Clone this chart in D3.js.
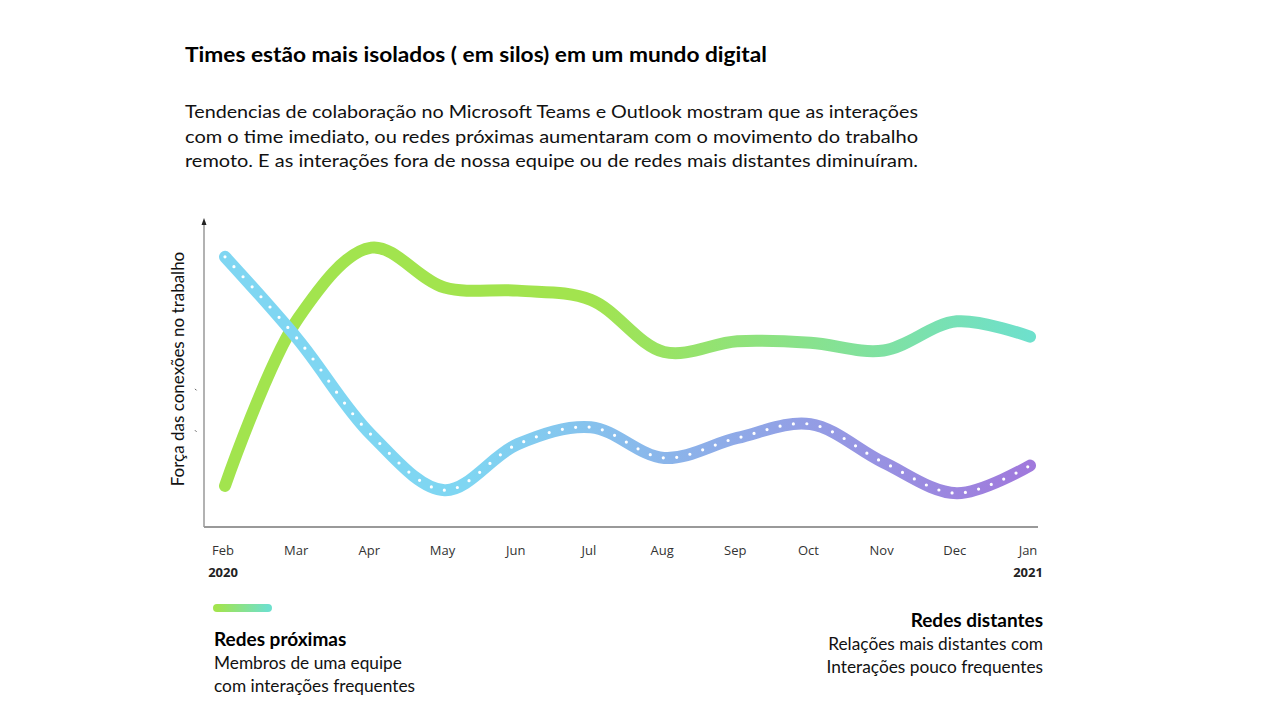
<!DOCTYPE html>
<html><head><meta charset="utf-8">
<script src="https://cdn.jsdelivr.net/npm/d3@7"></script>
<style>body{margin:0;background:#fff}svg{display:block}</style>
</head><body>
<svg id="c" width="1280" height="720"></svg>
<script>
const months = ["Feb","Mar","Apr","May","Jun","Jul","Aug","Sep","Oct","Nov","Dec","Jan"];
const years = ["2020","","","","","","","","","","","2021"];
const proximas = [13.4, 68, 91, 78, 77, 74, 57, 60.5, 60, 57.5, 67, 62];
const distantes = [88, 61, 30, 12, 27, 32.5, 22.5, 29, 33.5, 21, 11, 20];

const svg = d3.select("#c");
const font = "Lato, 'Open Sans', sans-serif";
const x = d3.scalePoint().domain(months).range([225, 1030]);
const y = d3.scaleLinear().domain([0, 100]).range([527, 220]);

const defs = svg.append("defs");
function grad(id, c1, c2, stops){
  const g = defs.append("linearGradient").attr("id", id).attr("gradientUnits","userSpaceOnUse")
    .attr("x1",225).attr("x2",1030).attr("y1",0).attr("y2",0);
  g.append("stop").attr("offset", stops[0]).attr("stop-color", c1);
  g.append("stop").attr("offset", stops[1]).attr("stop-color", c2);
}
grad("gG", "#a2e44e", "#6ee0cc", ["45%","100%"]);
grad("gB", "#7fd6f2", "#a079dc", ["30%","100%"]);
const lg = defs.append("linearGradient").attr("id","gL");
lg.append("stop").attr("offset","0%").attr("stop-color","#a2e44e");
lg.append("stop").attr("offset","100%").attr("stop-color","#6ee0cc");

// axes
svg.append("line").attr("x1",204).attr("x2",1038).attr("y1",527).attr("y2",527)
  .attr("stroke","#999").attr("stroke-width",2);
svg.append("line").attr("x1",204).attr("x2",204).attr("y1",527).attr("y2",224)
  .attr("stroke","#999").attr("stroke-width",1.5);
svg.append("path").attr("d","M204,218 L201.5,225 L206.5,225 Z").attr("fill","#222");
[45, 31.5].forEach(v => svg.append("line").attr("x1",195).attr("x2",196.5)
  .attr("y1",y(v)).attr("y2",y(v)+1.5).attr("stroke","#555").attr("stroke-width",1));

const line = d3.line().x((d,i)=>x(months[i])).y(d=>y(d)).curve(d3.curveCatmullRom.alpha(0.5));

svg.append("path").attr("d", line(proximas)).attr("fill","none")
  .attr("stroke","url(#gG)").attr("stroke-width",12).attr("stroke-linecap","round");
svg.append("path").attr("d", line(distantes)).attr("fill","none")
  .attr("stroke","url(#gB)").attr("stroke-width",12).attr("stroke-linecap","round");
svg.append("path").attr("d", line(distantes)).attr("fill","none")
  .attr("stroke","#fff").attr("stroke-width",3.2).attr("stroke-linecap","round")
  .attr("stroke-dasharray","0 13.5");

// x labels
const xl = svg.append("g").attr("font-family","'Open Sans', sans-serif").attr("font-size",13).attr("fill","#333");
months.forEach((m,i)=>{
  xl.append("text").attr("x",x(m)-2).attr("y",555).attr("text-anchor","middle").text(m);
  if(years[i]) xl.append("text").attr("x",x(m)-2).attr("y",577).attr("text-anchor","middle")
     .attr("font-weight","bold").attr("fill","#222").text(years[i]);
});

// y label
svg.append("text").attr("transform","translate(184,369) rotate(-90)").attr("text-anchor","middle")
  .attr("font-family",font).attr("font-size",17).attr("fill","#111").text("Força das conexões no trabalho");

// title & paragraph
svg.append("text").attr("x",185).attr("y",62).attr("font-family",font).attr("font-weight","bold")
  .attr("font-size",20).attr("fill","#000").attr("textLength",582).attr("lengthAdjust","spacingAndGlyphs")
  .text("Times estão mais isolados ( em silos) em um mundo digital");
const para = ["Tendencias de colaboração no Microsoft Teams e Outlook mostram que as interações",
  "com o time imediato, ou redes próximas aumentaram com o movimento do trabalho",
  "remoto. E as interações fora de nossa equipe ou de redes mais distantes diminuíram."];
para.forEach((t,i)=>svg.append("text").attr("x",185).attr("y",118+i*24.5).attr("font-family",font)
  .attr("font-size",17.5).attr("fill","#111").attr("textLength",733).attr("lengthAdjust","spacingAndGlyphs").text(t));

// legend left
svg.append("line").attr("x1",217).attr("x2",268).attr("y1",608).attr("y2",608.01)
  .attr("stroke","url(#gL)").attr("stroke-width",8).attr("stroke-linecap","round");
svg.append("text").attr("x",214).attr("y",646).attr("font-family",font).attr("font-weight","bold")
  .attr("font-size",19).attr("fill","#000").text("Redes próximas");
svg.append("text").attr("x",214).attr("y",669).attr("font-family",font).attr("font-size",17.3)
  .attr("fill","#111").text("Membros de uma equipe");
svg.append("text").attr("x",214).attr("y",692).attr("font-family",font).attr("font-size",17.3)
  .attr("fill","#111").text("com interações frequentes");

// legend right
svg.append("text").attr("x",1043).attr("y",627).attr("text-anchor","end").attr("font-family",font)
  .attr("font-weight","bold").attr("font-size",19).attr("fill","#000").text("Redes distantes");
svg.append("text").attr("x",1043).attr("y",650).attr("text-anchor","end").attr("font-family",font)
  .attr("font-size",17.3).attr("fill","#111").text("Relações mais distantes com");
svg.append("text").attr("x",1043).attr("y",673).attr("text-anchor","end").attr("font-family",font)
  .attr("font-size",17.3).attr("fill","#111").text("Interações pouco frequentes");
</script>
</body></html>
